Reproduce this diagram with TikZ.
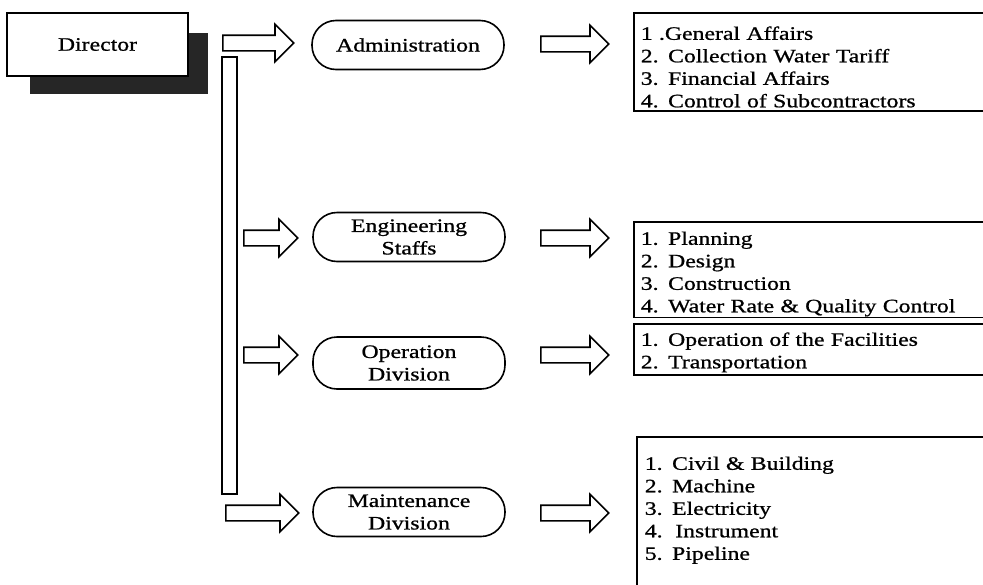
\documentclass[tikz,border=0pt]{standalone}
\usepackage{fontspec}
\setmainfont{Liberation Serif}[FakeStretch=1.25,FakeBold=0.9]
\usetikzlibrary{shapes.arrows}

\begin{document}
\begin{tikzpicture}[x=1pt,y=-1pt,line width=1.6pt,
  every node/.style={font=\fontsize{19}{22.5}\selectfont},
  unit/.style={draw,rounded corners=24pt,minimum width=192pt,minimum height=49pt,align=center,inner sep=1pt},
  hollow/.style={draw,single arrow,single arrow head extend=11pt,inner sep=0pt,inner ysep=7pt,minimum height=#1,anchor=west},
  duties/.style={draw,anchor=north west,text width=345pt,align=left,inner xsep=7pt,inner ysep=0pt}]
	\useasboundingbox (0,0) rectangle (983,584);
	% director with its shadow
	\fill[black!85] (30,33) rectangle (208,94);
	\node[draw,fill=white,minimum width=181pt,minimum height=63pt] (director) at (97.5,44.5) {Director};
	\node[draw,minimum width=15pt,minimum height=437pt,inner sep=0pt] (bar) at (229.5,275.5) {};
	% first row
	\node[hollow=71pt] (arA) at (222,43) {};
	\node[unit] (admin) at (408,45) {Administration};
	\node[hollow=68pt] (arAA) at (540,44) {};
	\node[duties] (adminlist) at (633,12) {\rule{0pt}{27pt}1 .General Affairs\\2. Collection Water Tariff\\3. Financial Affairs\\4. Control of Subcontractors\rule[-3.5pt]{0pt}{3.5pt}};
	% second row
	\node[hollow=54pt] (arE) at (243,238) {};
	\node[unit] (eng) at (409,237) {Engineering\\Staffs};
	\node[hollow=68pt] (arEE) at (540,238) {};
	\node[duties] (englist) at (633,221) {\rule{0pt}{23pt}1. Planning\\2. Design\\3. Construction\\4. Water Rate \& Quality Control\rule[-5pt]{0pt}{5pt}};
	% third row
	\node[hollow=54pt] (arO) at (243,355) {};
	\node[unit,minimum height=52pt] (ops) at (409,363) {Operation\\Division};
	\node[hollow=68pt] (arOO) at (540,355) {};
	\node[duties] (opslist) at (633,323) {\rule{0pt}{22pt}1. Operation of the Facilities\\2. Transportation\rule[-6.5pt]{0pt}{6.5pt}};
	% last row
	\node[hollow=73pt] (arM) at (225,513) {};
	\node[unit] (maint) at (409,512) {Maintenance\\Division};
	\node[hollow=68pt] (arMM) at (540,513) {};
	\node[duties,draw=none] (maintlist) at (637,437) {\rule{0pt}{32pt}1. Civil \& Building\\2. Machine\\3. Electricity\\4.\ \ Instrument\\5. Pipeline};
	\draw (maintlist.north east) -- (maintlist.north west) -- (maintlist.west |- 0,590);
\end{tikzpicture}
\end{document}
